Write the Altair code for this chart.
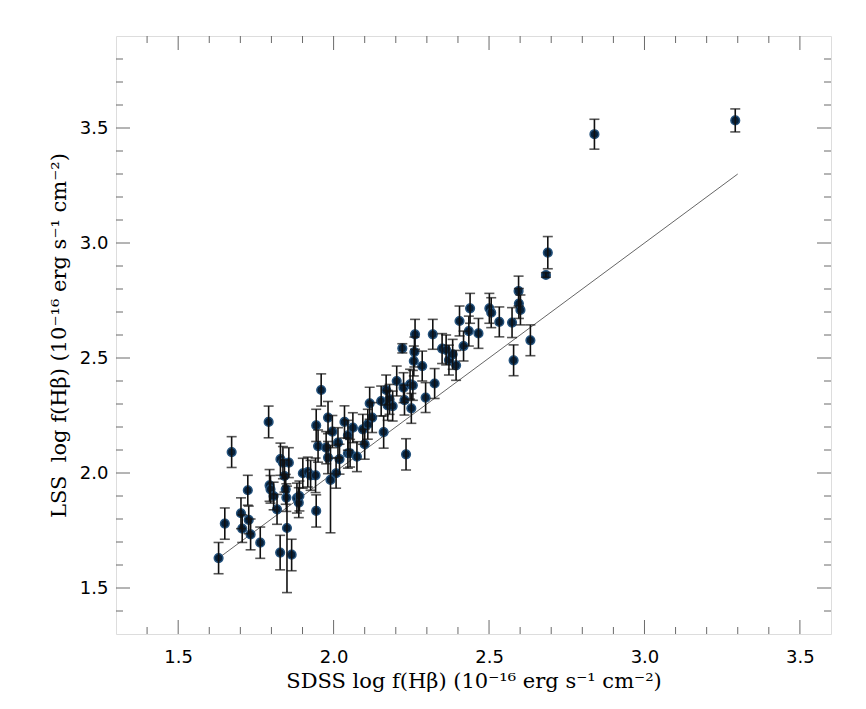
import altair as alt
import pandas as pd

# SDSS log f(Hbeta) values
sdss = [1.630, 1.650, 1.672, 1.702, 1.706, 1.724, 1.727, 1.733, 1.764, 1.791,
        1.794, 1.797, 1.807, 1.818, 1.828, 1.829, 1.837, 1.842, 1.846, 1.848,
        1.850, 1.856, 1.865, 1.882, 1.888, 1.890, 1.901, 1.917, 1.926, 1.942,
        1.944, 1.944, 1.950, 1.982, 1.990, 1.996, 1.976, 1.982, 2.014, 2.008,
        1.960, 2.019, 2.035, 2.046, 2.046, 2.053, 2.062, 2.075, 2.094, 2.100,
        2.110, 2.116, 2.124, 2.153, 2.161, 2.169, 2.174, 2.180, 2.190, 2.203,
        2.221, 2.225, 2.228, 2.233, 2.246, 2.250, 2.255, 2.258, 2.260, 2.262,
        2.285, 2.296, 2.319, 2.325, 2.349, 2.362, 2.371, 2.383, 2.394, 2.405,
        2.418, 2.435, 2.439, 2.466, 2.501, 2.507, 2.533, 2.574, 2.579, 2.595,
        2.596, 2.601, 2.633, 2.683, 2.689, 2.839, 3.292]
# LSS log f(Hbeta) values
lss = [1.630, 1.780, 2.091, 1.825, 1.758, 1.925, 1.796, 1.733, 1.697, 2.222,
       1.946, 1.929, 1.900, 1.842, 1.654, 2.060, 2.045, 1.987, 1.929, 1.893,
       1.761, 2.045, 1.645, 1.891, 1.871, 1.900, 1.999, 2.004, 1.990, 1.990,
       1.835, 2.207, 2.117, 2.241, 1.970, 2.180, 2.110, 2.067, 2.132, 1.999,
       2.361, 2.060, 2.222, 2.164, 2.086, 2.086, 2.197, 2.071, 2.190, 2.125,
       2.212, 2.303, 2.241, 2.313, 2.178, 2.361, 2.294, 2.320, 2.291, 2.400,
       2.542, 2.371, 2.317, 2.081, 2.386, 2.281, 2.381, 2.487, 2.526, 2.603,
       2.465, 2.328, 2.603, 2.389, 2.541, 2.535, 2.491, 2.516, 2.468, 2.661,
       2.552, 2.617, 2.716, 2.607, 2.716, 2.697, 2.657, 2.654, 2.490, 2.791,
       2.737, 2.709, 2.577, 2.861, 2.958, 3.473, 3.533]
# lower / upper error on LSS values
err_lo = [0.068, 0.068, 0.067, 0.067, 0.060, 0.065, 0.060, 0.067, 0.068, 0.069,
          0.069, 0.060, 0.060, 0.065, 0.075, 0.070, 0.070, 0.070, 0.065, 0.060,
          0.281, 0.065, 0.070, 0.065, 0.065, 0.065, 0.065, 0.065, 0.065, 0.075,
          0.070, 0.070, 0.070, 0.070, 0.230, 0.070, 0.070, 0.070, 0.065, 0.065,
          0.070, 0.065, 0.070, 0.065, 0.065, 0.060, 0.065, 0.065, 0.065, 0.065,
          0.065, 0.070, 0.065, 0.065, 0.070, 0.065, 0.065, 0.065, 0.065, 0.065,
          0.020, 0.065, 0.065, 0.068, 0.065, 0.065, 0.065, 0.065, 0.065, 0.065,
          0.065, 0.065, 0.065, 0.065, 0.065, 0.065, 0.065, 0.065, 0.065, 0.065,
          0.065, 0.065, 0.065, 0.065, 0.065, 0.065, 0.065, 0.065, 0.067, 0.065,
          0.065, 0.065, 0.067, 0.010, 0.070, 0.065, 0.050]
err_hi = [0.068, 0.068, 0.067, 0.067, 0.060, 0.065, 0.060, 0.067, 0.068, 0.069,
          0.069, 0.060, 0.060, 0.065, 0.075, 0.070, 0.070, 0.070, 0.065, 0.060,
          0.182, 0.065, 0.067, 0.065, 0.065, 0.065, 0.065, 0.065, 0.065, 0.075,
          0.070, 0.070, 0.070, 0.070, 0.150, 0.070, 0.070, 0.070, 0.065, 0.065,
          0.070, 0.065, 0.070, 0.065, 0.065, 0.060, 0.065, 0.065, 0.065, 0.065,
          0.065, 0.070, 0.065, 0.065, 0.070, 0.065, 0.065, 0.065, 0.065, 0.065,
          0.020, 0.065, 0.065, 0.068, 0.065, 0.065, 0.065, 0.065, 0.065, 0.065,
          0.065, 0.065, 0.065, 0.065, 0.065, 0.065, 0.065, 0.065, 0.065, 0.065,
          0.065, 0.065, 0.065, 0.065, 0.065, 0.065, 0.065, 0.065, 0.067, 0.065,
          0.065, 0.065, 0.067, 0.010, 0.070, 0.065, 0.050]

# one-to-one reference line end points
line_x = [1.63, 3.30]
line_y = [1.63, 3.30]

# axis ticks
x_major = [1.5, 2.0, 2.5, 3.0, 3.5]
x_minor = [1.4, 1.6, 1.7, 1.8, 1.9, 2.1, 2.2, 2.3, 2.4, 2.6, 2.7, 2.8, 2.9,
           3.1, 3.2, 3.3, 3.4]
y_major = [1.5, 2.0, 2.5, 3.0, 3.5]
y_minor = [1.4, 1.6, 1.7, 1.8, 1.9, 2.1, 2.2, 2.3, 2.4, 2.6, 2.7, 2.8, 2.9,
           3.1, 3.2, 3.3, 3.4, 3.6, 3.7, 3.8]

W, H = 715, 598
FRAME = "#6a6a6a"

df = pd.DataFrame({"x": sdss, "y": lss})
df["lo"] = [v - e for v, e in zip(lss, err_lo)]
df["hi"] = [v + e for v, e in zip(lss, err_hi)]
line_df = pd.DataFrame({"x": line_x, "y": line_y})

xs = alt.Scale(domain=[1.3, 3.6], nice=False, zero=False)
ys = alt.Scale(domain=[1.3, 3.9], nice=False, zero=False)

xax = alt.Axis(values=x_major, format=".1f", domain=False, ticks=False, tickSize=0,
               grid=False, labelFont="DejaVu Sans", labelFontSize=18,
               labelColor="black", labelPadding=14,
               title="SDSS log f(Hβ) (10⁻¹⁶ erg s⁻¹ cm⁻²)",
               titleFont="DejaVu Serif", titleFontSize=21, titleFontWeight="normal",
               titleColor="black", titlePadding=4)
yax = alt.Axis(values=y_major, format=".1f", domain=False, ticks=False, tickSize=0,
               grid=False, labelFont="DejaVu Sans", labelFontSize=18,
               labelColor="black", labelPadding=8,
               title="LSS\u00a0\u00a0log f(Hβ) (10⁻¹⁶ erg s⁻¹ cm⁻²)",
               titleFont="DejaVu Serif", titleFontSize=21, titleFontWeight="normal",
               titleColor="black", titlePadding=10)

base = alt.Chart(df)

line = alt.Chart(line_df).mark_line(color="#666666", strokeWidth=1).encode(
    x=alt.X("x:Q", scale=xs, axis=xax), y=alt.Y("y:Q", scale=ys, axis=yax))

points = base.mark_point(filled=True, size=75, fill="#07213b", stroke="#24527d",
                         strokeWidth=1.5, opacity=1).encode(
    x=alt.X("x:Q", scale=xs), y=alt.Y("y:Q", scale=ys))

bars = base.mark_rule(color="#111111", strokeWidth=1.6).encode(
    x=alt.X("x:Q", scale=xs), y=alt.Y("lo:Q", scale=ys), y2="hi:Q")
cap_lo = base.mark_tick(orient="horizontal", size=10, thickness=1.6, color="#111111").encode(
    x=alt.X("x:Q", scale=xs), y=alt.Y("lo:Q", scale=ys))
cap_hi = base.mark_tick(orient="horizontal", size=10, thickness=1.6, color="#111111").encode(
    x=alt.X("hi_x:Q", scale=xs), y=alt.Y("hi:Q", scale=ys)).transform_calculate(hi_x="datum.x")

def xticks(vals, length):
    d = alt.Chart(pd.DataFrame({"t": vals}))
    bot = d.mark_rule(color=FRAME, strokeWidth=1).encode(
        x=alt.X("t:Q", scale=xs), y=alt.value(H), y2=alt.value(H - length))
    top = d.mark_rule(color=FRAME, strokeWidth=1).encode(
        x=alt.X("t:Q", scale=xs), y=alt.value(0), y2=alt.value(length))
    return [bot, top]

def yticks(vals, length):
    d = alt.Chart(pd.DataFrame({"t": vals}))
    left = d.mark_rule(color=FRAME, strokeWidth=1).encode(
        y=alt.Y("t:Q", scale=ys), x=alt.value(0), x2=alt.value(length))
    right = d.mark_rule(color=FRAME, strokeWidth=1).encode(
        y=alt.Y("t:Q", scale=ys), x=alt.value(W), x2=alt.value(W - length))
    return [left, right]

tick_layers = xticks(x_major, 14) + xticks(x_minor, 7) + yticks(y_major, 14) + yticks(y_minor, 7)

chart = alt.layer(line, *tick_layers, points, bars, cap_lo, cap_hi).properties(
    width=W, height=H,
    autosize=alt.AutoSizeParams(type="none"),
    padding={"left": 108, "top": 28, "right": 27, "bottom": 67},
).configure_view(stroke=FRAME, strokeWidth=1.2).configure(background="white")

chart.save("out.html", embed_options={"renderer": "svg", "actions": False})
